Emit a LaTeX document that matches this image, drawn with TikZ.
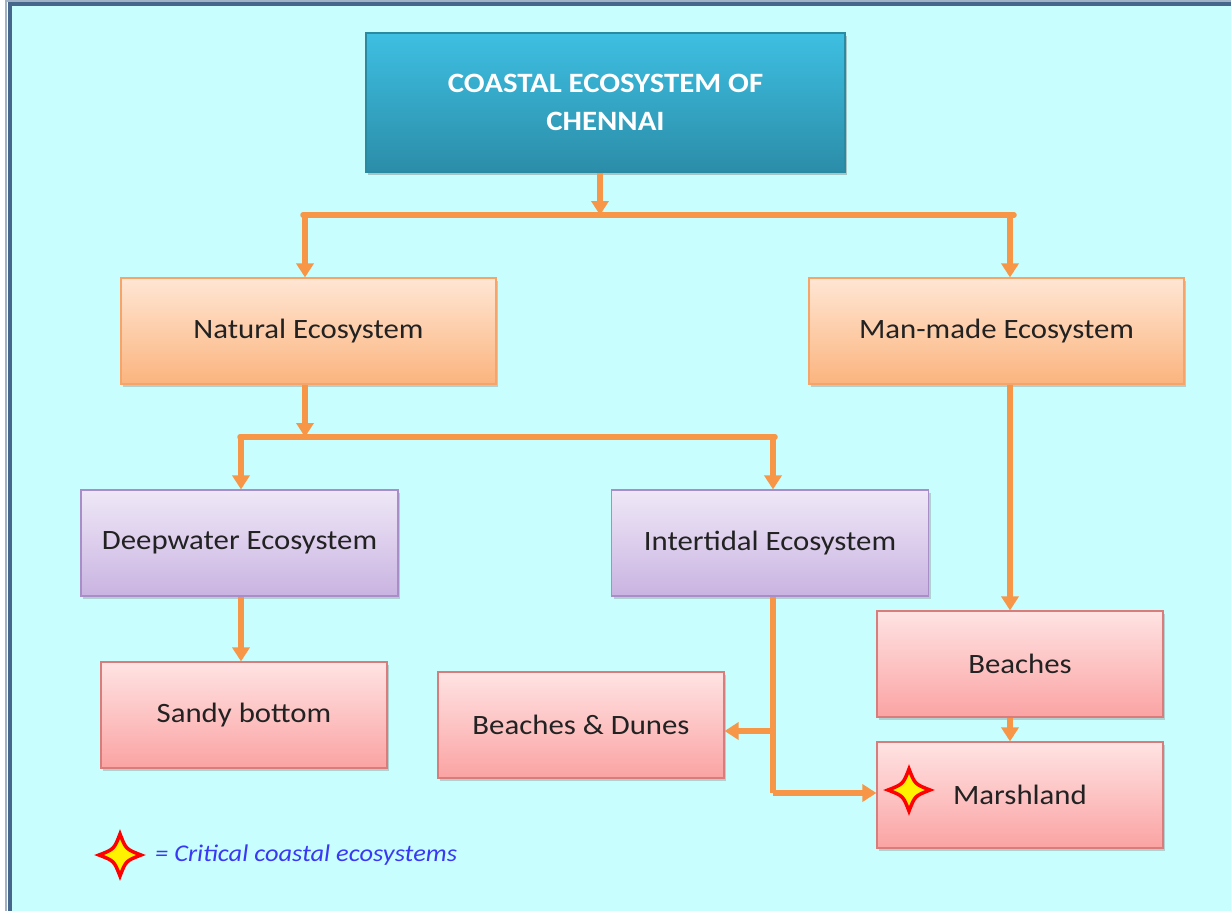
\documentclass[tikz,border=0pt]{standalone}
\usepackage{fontspec}
\setmainfont{Carlito}[FakeStretch=1.1]
\usetikzlibrary{arrows.meta,shadows,calc}

\definecolor{bgcyan}{HTML}{C8FEFE}
\definecolor{framecol}{HTML}{46668C}
\definecolor{linkcol}{HTML}{F79646}
\definecolor{tealtop}{HTML}{3EBFE2}
\definecolor{tealbot}{HTML}{2B8DA8}
\definecolor{tealedge}{HTML}{2A8AA2}
\definecolor{orgtop}{HTML}{FFE6D4}
\definecolor{orgbot}{HTML}{FBB47E}
\definecolor{orgedge}{HTML}{F6A46A}
\definecolor{purtop}{HTML}{EFE8F7}
\definecolor{purbot}{HTML}{C9B3E1}
\definecolor{puredge}{HTML}{A88DC8}
\definecolor{pnktop}{HTML}{FFE3E3}
\definecolor{pnkbot}{HTML}{FBA3A3}
\definecolor{pnkedge}{HTML}{D97C7C}
\definecolor{legendblue}{HTML}{3838F5}
\definecolor{textgray}{HTML}{222222}

\tikzset{
  box/.style={rectangle, minimum width=#1, minimum height=106pt, inner sep=0pt,
    font=\fontsize{28}{32}\selectfont, text=textgray, line width=1.2pt,
    drop shadow={opacity=0.35, shadow xshift=2pt, shadow yshift=-3pt}},
  orangebox/.style={box=375pt, draw=orgedge, top color=orgtop, bottom color=orgbot},
  purplebox/.style={box=317pt, draw=puredge, top color=purtop, bottom color=purbot},
  pinkbox/.style={box=286pt, draw=pnkedge, top color=pnktop, bottom color=pnkbot},
  link/.style={draw=linkcol, line width=5.5pt},
  arr/.style={link, -{Triangle[width=17pt,length=14pt]}},
  critstar/.style={draw=red, fill=yellow, line width=3.5pt, line join=miter}
}

% four-pointed star with concave sides, centred on #1, half-size #2
\newcommand{\critmark}[2]{%
  \path[critstar] ($(#1)+(0,-#2)$)
    .. controls ($(#1)+(0.28*#2,-0.28*#2)$) .. ($(#1)+(#2,0)$)
    .. controls ($(#1)+(0.28*#2,0.28*#2)$) .. ($(#1)+(0,#2)$)
    .. controls ($(#1)+(-0.28*#2,0.28*#2)$) .. ($(#1)+(-#2,0)$)
    .. controls ($(#1)+(-0.28*#2,-0.28*#2)$) .. cycle;}

\begin{document}
\begin{tikzpicture}[x=1pt, y=-1pt]
  \useasboundingbox (0,0) rectangle (1231,911);

  % page background and frame
  \fill[white] (0,0) rectangle (1231,911);
  \fill[bgcyan] (9,3) rectangle (1231,911);
  \draw[framecol!50, line width=1.5pt] (6,911) -- (6,0.75) -- (1231,0.75);
  \draw[framecol, line width=3.5pt] (10,911) -- (10,4) -- (1231,4);

  % title box
  \node[rectangle, minimum width=479pt, minimum height=139pt, inner sep=0pt,
        draw=tealedge, line width=1.2pt, top color=tealtop, bottom color=tealbot,
        drop shadow={opacity=0.45, shadow xshift=2pt, shadow yshift=-3pt},
        text=white, align=center,
        font=\fontsize{28}{38}\selectfont\bfseries]
        (root) at (605.5,102.5) {COASTAL ECOSYSTEM OF\\CHENNAI};

  % second level
  \node[orangebox] (nat) at (308.5,331) {Natural Ecosystem};
  \node[orangebox] (man) at (996.5,331) {Man-made Ecosystem};

  % third level
  \node[purplebox] (deep) at (239.5,543) {Deepwater Ecosystem};
  \node[purplebox] (inter) at (770,543) {Intertidal Ecosystem};

  % leaves
  \node[pinkbox] (sandy) at (244,715) {Sandy bottom};
  \node[pinkbox] (dunes) at (581,725) {Beaches \& Dunes};
  \node[pinkbox] (beach) at (1020,664) {Beaches};
  \node[pinkbox] (marsh) at (1020,795) {Marshland};

  % junction points of the branching connectors
  \coordinate (r1) at (600,215);
  \coordinate (r1l) at (303,215);
  \coordinate (r1r) at (1014,215);
  \coordinate (r2) at (305,437);
  \coordinate (r2l) at (240,437);
  \coordinate (r2r) at (775,437);
  \coordinate (t1) at (773,731);
  \coordinate (t2) at (773,793);

  % root to the two main branches
  \draw[arr] (root.south -| r1) -- (r1);
  \draw[link, line cap=round] (r1l) -- (r1r);
  \draw[arr] (305,215) -- (nat.north -| 305,0);
  \draw[arr] (1010,215) -- (man.north -| 1010,0);

  % natural ecosystem branches
  \draw[arr] (nat.south -| r2) -- (r2);
  \draw[link, line cap=round] (r2l) -- (r2r);
  \draw[arr] (241,437) -- (deep.north -| 241,0);
  \draw[arr] (773,437) -- (inter.north -| 773,0);

  % deepwater and intertidal outcomes
  \draw[arr] (deep.south -| 241,0) -- (sandy.north -| 241,0);
  \draw[link] (inter.south -| t1) -- (t2);
  \draw[arr] (t1) -- (dunes.east |- t1);
  \draw[arr] (t2) -- (marsh.west |- t2);

  % man-made ecosystem outcomes
  \draw[arr] (man.south -| 1010,0) -- (beach.north -| 1010,0);
  \draw[arr] (beach.south -| 1010,0) -- (marsh.north -| 1010,0);

  % critical markers and legend
  \coordinate (mstar) at (909,790);
  \critmark{mstar}{21}
  \coordinate (lstar) at (120,855);
  \critmark{lstar}{21}
  \node[anchor=west, text=legendblue, inner sep=0pt,
        font=\fontsize{24}{28}\selectfont\itshape]
        (legend) at (155,855) {= Critical coastal ecosystems};
\end{tikzpicture}
\end{document}
